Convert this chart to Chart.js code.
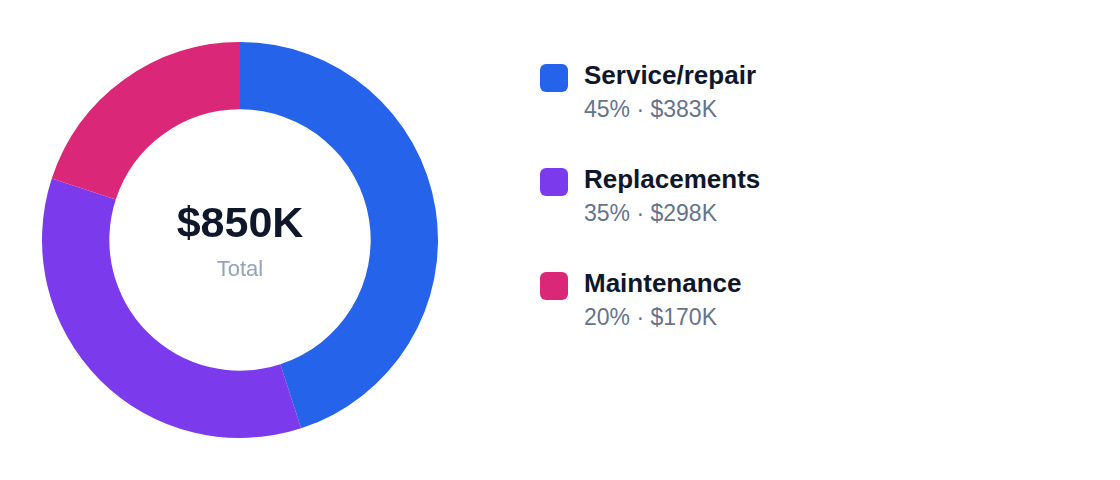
<!DOCTYPE html>
<html lang="en">
<head>
    <meta charset="UTF-8">
    <title>Revenue by category</title>
    <script src="https://cdn.jsdelivr.net/npm/chart.js"></script>
    <style>
        html, body {
            margin: 0;
            padding: 0;
            background: #ffffff;
            font-family: 'Liberation Sans', Arial, sans-serif;
        }
        .page {
            position: relative;
            width: 1120px;
            height: 480px;
            overflow: hidden;
        }
        .chart-box {
            position: absolute;
            left: 40px;
            top: 40px;
            width: 400px;
            height: 400px;
        }
        .legend {
            position: absolute;
            left: 540px;
            top: 64px;
        }
        .legend-item {
            position: relative;
            height: 104px;
            padding-left: 44px;
        }
        .swatch {
            position: absolute;
            left: 0;
            top: 0;
            width: 28px;
            height: 28px;
            border-radius: 6px;
        }
        .legend-title {
            position: relative;
            top: -2px;
            font-size: 26px;
            font-weight: bold;
            color: #0f172a;
            line-height: 26px;
        }
        .legend-sub {
            position: relative;
            top: 8px;
            font-size: 23px;
            color: #64748b;
            line-height: 23px;
        }
    </style>
</head>
<body>
<div class="page">
    <div class="chart-box"><canvas id="donut"></canvas></div>
    <div class="legend" id="legend"></div>
</div>
<script>
const categories = ['Service/repair', 'Replacements', 'Maintenance'];
const revenueK = [383, 298, 170];
const shareLabels = ['45%', '35%', '20%'];
const colors = ['#2563eb', '#7c3aed', '#db2777'];
const totalLabel = '$850K';

// texto central del donut
const centerText = {
    id: 'centerText',
    afterDraw(chart) {
        const ctx = chart.ctx;
        const arc = chart.getDatasetMeta(0).data[0];
        const x = arc.x, y = arc.y;
        ctx.save();
        ctx.textAlign = 'center';
        ctx.textBaseline = 'alphabetic';
        ctx.fillStyle = '#0f172a';
        ctx.font = "bold 43px 'Liberation Sans', Arial, sans-serif";
        ctx.fillText(totalLabel, x, y - 3);
        ctx.fillStyle = '#94a3b8';
        ctx.font = "22px 'Liberation Sans', Arial, sans-serif";
        ctx.fillText('Total', x, y + 36);
        ctx.restore();
    }
};

new Chart(document.getElementById('donut'), {
    type: 'doughnut',
    data: {
        labels: categories,
        datasets: [{
            data: revenueK,
            backgroundColor: colors,
            borderWidth: 0
        }]
    },
    options: {
        responsive: true,
        maintainAspectRatio: false,
        animation: false,
        cutout: '66%',
        layout: { padding: 2 },
        plugins: {
            legend: { display: false },
            tooltip: { enabled: false }
        }
    },
    plugins: [centerText]
});

document.getElementById('legend').innerHTML = categories.map((name, i) => `
    <div class="legend-item">
        <div class="swatch" style="background:${colors[i]}"></div>
        <div class="legend-title">${name}</div>
        <div class="legend-sub">${shareLabels[i]} · $${revenueK[i]}K</div>
    </div>
`).join('');
</script>
</body>
</html>
